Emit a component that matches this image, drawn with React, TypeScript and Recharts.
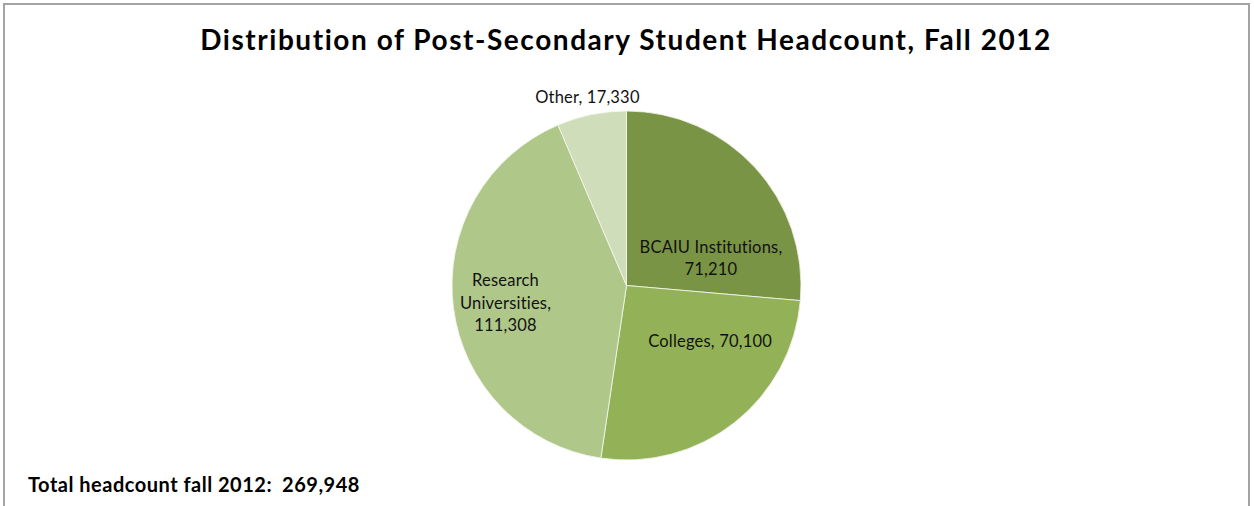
import { PieChart, Pie, Cell } from 'recharts';

const categories = ['BCAIU Institutions', 'Colleges', 'Research Universities', 'Other'];
const headcounts = [71210, 70100, 111308, 17330];
const sliceColors = ['#7A9445', '#93B156', '#AFC789', '#D0DDBA'];

const chartTitle = 'Distribution of Post-Secondary Student Headcount, Fall 2012';
const footerLabel = 'Total headcount fall 2012:';

const FONT = 'Lato, "Open Sans", sans-serif';

// label placement, relative to the pie centre, in units of the outer radius
const labelLayout: Record<string, { x: number; y: number; splitName: boolean; valueOwnLine: boolean }> = {
    'BCAIU Institutions': { x: 0.484, y: -0.189, splitName: false, valueOwnLine: true },
    'Colleges': { x: 0.479, y: 0.352, splitName: false, valueOwnLine: false },
    'Research Universities': { x: -0.693, y: 0.003, splitName: true, valueOwnLine: true },
    'Other': { x: -0.224, y: -1.048, splitName: false, valueOwnLine: false },
};

const chartData = categories.map((name, i) => ({ name, value: headcounts[i] }));
const total = headcounts.reduce((a, b) => a + b, 0);

const fmt = (v: number) => v.toLocaleString('en-US');

const renderLabel = (props: any) => {
    const { cx, cy, outerRadius, name, value } = props;
    const layout = labelLayout[name];
    if (!layout) return null;
    let lines: string[];
    if (layout.splitName) {
        lines = [...name.split(' ')];
        lines[lines.length - 1] += ',';
        lines.push(fmt(value));
    } else if (layout.valueOwnLine) {
        lines = [name + ',', fmt(value)];
    } else {
        lines = [`${name}, ${fmt(value)}`];
    }
    const x = cx + layout.x * outerRadius;
    const y = cy + layout.y * outerRadius;
    return (
        <text x={x} y={y} textAnchor="middle" fill="#111" fontFamily={FONT} fontSize={16.5} letterSpacing={0.2}>
            {lines.map((line, i) => (
                <tspan key={i} x={x} dy={i === 0 ? 0 : 22.5}>
                    {line}
                </tspan>
            ))}
        </text>
    );
};

const App = () => {
    return (
        <div style={{ position: 'absolute', left: 0, top: 0, width: 1254, height: 506, overflow: 'hidden', background: '#fff' }}>
            <div
                style={{
                    position: 'absolute',
                    left: 3,
                    top: 3,
                    width: 1243,
                    height: 540,
                    border: '2px solid #a3a3a3',
                }}
            />
            <div style={{ position: 'absolute', left: 0, top: 0 }}>
                <PieChart width={1254} height={506} margin={{ top: 0, right: 0, bottom: 0, left: 0 }}>
                    <Pie
                        data={chartData}
                        dataKey="value"
                        nameKey="name"
                        cx={626.5}
                        cy={285.5}
                        outerRadius={174.5}
                        startAngle={90}
                        endAngle={-270}
                        stroke="#f4f7ee"
                        strokeWidth={0.8}
                        label={renderLabel}
                        labelLine={false}
                        isAnimationActive={false}
                    >
                        {chartData.map((entry, i) => (
                            <Cell key={entry.name} fill={sliceColors[i]} />
                        ))}
                    </Pie>
                </PieChart>
            </div>
            <svg width={1254} height={506} style={{ position: 'absolute', left: 0, top: 0, pointerEvents: 'none' }}>
                <text x={626} y={50} textAnchor="middle" fontFamily={FONT} fontWeight={700} fontSize={28} letterSpacing={1.55} fill="#000">
                    {chartTitle}
                </text>
                <text x={28} y={492} fontFamily={FONT} fontWeight={700} fontSize={20} letterSpacing={0.5} fill="#000">
                    {footerLabel}
                    <tspan dx={10}>{fmt(total)}</tspan>
                </text>
            </svg>
        </div>
    );
};

export default App;
